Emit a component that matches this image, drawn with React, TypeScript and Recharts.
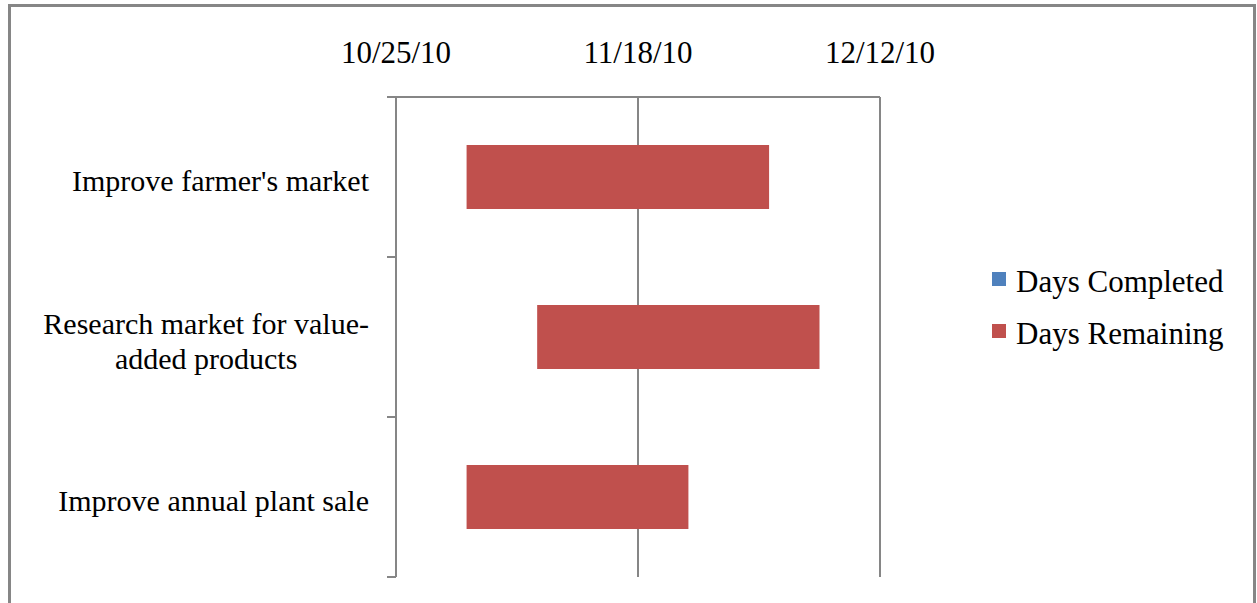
import React from "react";
import { BarChart, Bar, XAxis, YAxis, CartesianGrid, Legend } from "recharts";

// tasks, top to bottom
const tasks = [
  "Improve farmer's market",
  "Research market for value-added products",
  "Improve annual plant sale",
];
const startDates = ["11/1/10", "11/8/10", "11/1/10"];
const daysCompleted = [0, 0, 0];
const daysRemaining = [30, 28, 22];
const xTickLabels = ["10/25/10", "11/18/10", "12/12/10"];

const W = 1257;
const H = 603;
const PLOT_LEFT = 396;
const PLOT_RIGHT = 880;
const PLOT_TOP = 97;
const PLOT_BOTTOM = 577;
const GRID = "#868686";
const FONT_FAMILY = '"Liberation Serif", "Times New Roman", serif';

const toDay = (s: string) => {
  const [m, d, y] = s.split("/").map(Number);
  return Date.UTC(2000 + y, m - 1, d) / 86400000;
};

const day0 = toDay(xTickLabels[0]);
const xTicks = xTickLabels.map((t) => toDay(t) - day0);

const data = tasks.map((task, i) => ({
  task,
  offset: toDay(startDates[i]) - day0,
  completed: daysCompleted[i],
  remaining: daysRemaining[i],
}));

let measureCtx: CanvasRenderingContext2D | null = null;
const textWidth = (s: string, font: string) => {
  if (!measureCtx && typeof document !== "undefined") {
    measureCtx = document.createElement("canvas").getContext("2d");
  }
  if (!measureCtx) return s.length * 14;
  measureCtx.font = font;
  return measureCtx.measureText(s).width;
};

// excel-like wrap, breaks after spaces or hyphens
const wrapLabel = (label: string, maxChars = 26) => {
  const parts = label.split(/(?<=[ -])/);
  const lines: string[] = [];
  let cur = "";
  parts.forEach((p) => {
    if (cur && (cur + p).trimEnd().length > maxChars) {
      lines.push(cur.trimEnd());
      cur = p;
    } else {
      cur += p;
    }
  });
  if (cur) lines.push(cur.trimEnd());
  return lines;
};

const CAT_FONT = 30;

function TaskTick(props: any) {
  const { x, y, payload, index } = props;
  const half = (PLOT_BOTTOM - PLOT_TOP) / tasks.length / 2;
  const lines = wrapLabel(String(payload.value));
  const maxW = Math.max(...lines.map((l) => textWidth(l, `${CAT_FONT}px "Liberation Serif"`)));
  const cx = x - 27 - maxW / 2;
  const lineH = 35;
  const baseY = y + 14 - ((lines.length - 1) * lineH) / 2;
  return (
    <g>
      <line x1={x - 9} x2={x} y1={y - half} y2={y - half} stroke={GRID} strokeWidth={2} />
      {index === tasks.length - 1 && (
        <line x1={x - 9} x2={x} y1={y + half} y2={y + half} stroke={GRID} strokeWidth={2} />
      )}
      <text textAnchor="middle" fontSize={CAT_FONT} fontFamily={FONT_FAMILY} fill="#000">
        {lines.map((l, i) => (
          <tspan key={i} x={cx} y={baseY + i * lineH}>
            {l}
          </tspan>
        ))}
      </text>
    </g>
  );
}

function GanttLegend(props: any) {
  const items = (props.payload || []).filter((p: any) => p.type !== "none");
  return (
    <ul style={{ listStyle: "none", margin: 0, padding: 0, fontFamily: FONT_FAMILY, fontSize: 31 }}>
      {items.map((it: any) => (
        <li key={it.value} style={{ display: "flex", alignItems: "center", height: 52, whiteSpace: "nowrap" }}>
          <span
            style={{
              display: "inline-block",
              width: 14,
              height: 14,
              background: it.color,
              marginRight: 10,
              position: "relative",
              top: -3,
            }}
          />
          <span style={{ color: "#000" }}>{it.value}</span>
        </li>
      ))}
    </ul>
  );
}

export default function App() {
  return (
    <div style={{ position: "absolute", left: 0, top: 0, width: W, height: H, background: "#fff" }}>
      <div
        style={{
          position: "absolute",
          left: 8,
          top: 4,
          width: 1248,
          height: H - 4,
          border: `3px solid ${GRID}`,
          borderBottom: "none",
          boxSizing: "border-box",
        }}
      />
      <div style={{ position: "absolute", left: 0, top: 0 }}>
        <BarChart
          width={W}
          height={H}
          data={data}
          layout="vertical"
          barSize={64}
          margin={{ top: 0, left: 0, right: W - PLOT_RIGHT, bottom: H - PLOT_BOTTOM }}
        >
          <CartesianGrid horizontal={false} stroke={GRID} strokeWidth={2} />
          <XAxis
            type="number"
            orientation="top"
            domain={[xTicks[0], xTicks[xTicks.length - 1]]}
            ticks={xTicks}
            tickFormatter={(v: number) => xTickLabels[xTicks.indexOf(v)] ?? ""}
            height={PLOT_TOP}
            axisLine={{ stroke: GRID, strokeWidth: 2 }}
            tickLine={false}
            tickSize={0}
            tickMargin={34}
            tick={{ fontSize: 31, fontFamily: FONT_FAMILY, fill: "#000" }}
            interval={0}
          />
          <YAxis
            type="category"
            dataKey="task"
            width={PLOT_LEFT}
            axisLine={{ stroke: GRID, strokeWidth: 2 }}
            tickLine={false}
            tickSize={0}
            tickMargin={0}
            tick={<TaskTick />}
            interval={0}
          />
          <Legend
            layout="vertical"
            align="center"
            verticalAlign="middle"
            wrapperStyle={{ left: 992, top: 256, width: 260 }}
            content={<GanttLegend />}
          />
          <Bar dataKey="offset" stackId="g" fill="transparent" legendType="none" isAnimationActive={false} />
          <Bar dataKey="completed" name="Days Completed" stackId="g" fill="#4F81BD" isAnimationActive={false} />
          <Bar dataKey="remaining" name="Days Remaining" stackId="g" fill="#C0504D" isAnimationActive={false} />
        </BarChart>
      </div>
    </div>
  );
}
